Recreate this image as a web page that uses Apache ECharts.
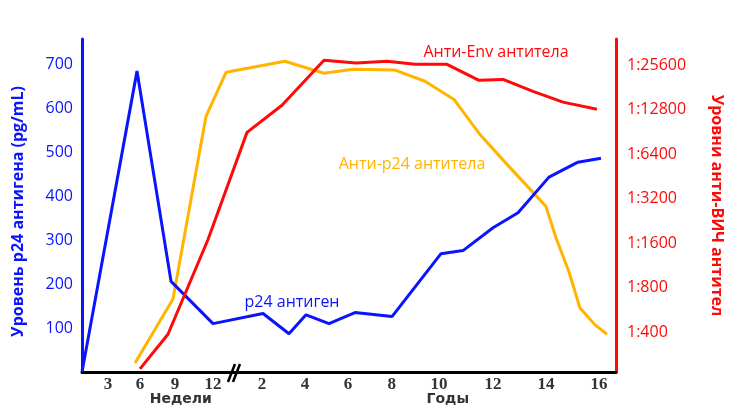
<!DOCTYPE html>
<html>
<head>
<meta charset="utf-8">
<script src="https://cdn.jsdelivr.net/npm/echarts@6/dist/echarts.min.js"></script>
<style>html,body{margin:0;padding:0;background:#fff;}#c{width:738px;height:414px;}</style>
</head>
<body>
<div id="c"></div>
<script>
// x positions are on an abstract time-position scale (0..100) as drawn in the reference
var tickPos    = [4.87, 10.86, 17.42, 24.53, 33.71, 41.76, 49.81, 58.0, 66.85, 76.97, 86.89, 96.82];
var tickLabels = ['3', '6', '9', '12', '2', '4', '6', '8', '10', '12', '14', '16'];
var breakPos = 28.46;

// p24 antigen (pg/mL), left axis
var p24X = [0, 10.30, 16.67, 24.53, 33.90, 38.76, 41.95, 46.25, 51.12, 58.05, 67.23, 71.35, 76.97, 81.65, 87.45, 92.88, 97.19];
var p24Y = [0, 684, 206, 110, 133, 87, 130, 110, 135, 126, 269, 276, 328, 362, 443, 477, 486];

// anti-Env antibody titre, in doublings above 1:400
var envX = [10.86, 16.10, 23.6, 30.90, 37.45, 45.32, 51.31, 57.12, 62.36, 68.35, 74.34, 78.84, 84.46, 90.07, 96.44];
var envY = [-0.83, -0.05, 2.08, 4.49, 5.10, 6.11, 6.05, 6.09, 6.02, 6.02, 5.66, 5.68, 5.41, 5.17, 5.01];

// anti-p24 antibody titre, in doublings above 1:400
var ap24X = [9.93, 17.04, 23.22, 26.97, 38.01, 45.32, 50.75, 58.61, 64.23, 69.66, 74.53, 79.59, 84.46, 86.89, 88.76, 91.20, 93.26, 96.07, 98.31];
var ap24Y = [-0.70, 0.74, 4.85, 5.84, 6.09, 5.82, 5.91, 5.89, 5.64, 5.23, 4.44, 3.77, 3.14, 2.82, 2.12, 1.35, 0.54, 0.16, -0.05];

var leftTicks = [100, 200, 300, 400, 500, 600, 700];
var rightTicks = [0, 1, 2, 3, 4, 5, 6];
var titreBase = 400;

function pairs(xs, ys) { return xs.map(function (x, i) { return [x, ys[i]]; }); }

var BLUE = '#0a14ff', RED = '#ff0a0a', ORANGE = '#ffb400';
var chart = echarts.init(document.getElementById('c'), null, {renderer: 'canvas'});
var option = {
  animation: false,
  backgroundColor: '#fff',
  grid: {left: 82, right: 122, top: 39, bottom: 42, containLabel: false},
  xAxis: {
    type: 'value', min: 0, max: 100,
    axisLine: {show: true, lineStyle: {color: '#000', width: 3}},
    axisTick: {show: false},
    splitLine: {show: false},
    axisLabel: {
      customValues: tickPos,
      margin: 4,
      fontFamily: 'Liberation Serif', fontWeight: 'bold', fontSize: 17, color: '#333',
      formatter: function (v) {
        var best = 0, bd = 1e9;
        tickPos.forEach(function (p, i) { var d = Math.abs(p - v); if (d < bd) { bd = d; best = i; } });
        return tickLabels[best];
      }
    }
  },
  yAxis: [{
    type: 'value', min: 0, max: 757, position: 'left',
    axisLine: {show: true, lineStyle: {color: BLUE, width: 3}},
    axisTick: {show: false}, splitLine: {show: false},
    axisLabel: {customValues: leftTicks, color: BLUE, fontFamily: 'Open Sans', fontSize: 16, margin: 9},
    name: 'Уровень р24 антигена (pg/mL)', nameLocation: 'middle', nameRotate: 90, nameGap: 56,
    nameTextStyle: {color: BLUE, fontFamily: 'Open Sans', fontWeight: 'bold', fontSize: 16, padding: [0, 12, 0, 0]}
  }, {
    type: 'value', min: -0.9, max: 6.59, position: 'right',
    axisLine: {show: true, lineStyle: {color: RED, width: 3}},
    axisTick: {show: false}, splitLine: {show: false},
    axisLabel: {customValues: rightTicks, color: RED, fontFamily: 'Open Sans', fontSize: 16, margin: 11,
      formatter: function (v) { return '1:' + Math.round(titreBase * Math.pow(2, v)); }},
    name: 'Уровни анти-ВИЧ антител', nameLocation: 'middle', nameRotate: -90, nameGap: 93,
    nameTextStyle: {color: RED, fontFamily: 'Open Sans', fontWeight: 'bold', fontSize: 16}
  }],
  series: [{
    type: 'line', yAxisIndex: 0, data: pairs(p24X, p24Y), showSymbol: false,
    lineStyle: {color: BLUE, width: 3}, itemStyle: {color: BLUE}, z: 3
  }, {
    type: 'line', yAxisIndex: 1, data: pairs(ap24X, ap24Y), showSymbol: false,
    lineStyle: {color: ORANGE, width: 3}, itemStyle: {color: ORANGE}, z: 2
  }, {
    type: 'line', yAxisIndex: 1, data: pairs(envX, envY), showSymbol: false,
    lineStyle: {color: RED, width: 3}, itemStyle: {color: RED}, z: 4
  }]
};
chart.setOption(option);

var bx = chart.convertToPixel({xAxisIndex: 0}, breakPos);
var by = chart.convertToPixel({yAxisIndex: 0}, 0);
var wx = chart.convertToPixel({xAxisIndex: 0}, (tickPos[1] + tickPos[3]) / 2 + 0.8);
var yx = chart.convertToPixel({xAxisIndex: 0}, 68.5);
var lblFont = {fontFamily: 'Open Sans', fontSize: 16};
chart.setOption({
  graphic: [
    {type: 'line', shape: {x1: bx - 6, y1: by + 10, x2: bx + 1, y2: by - 8}, style: {stroke: '#000', lineWidth: 2.5}, z: 10},
    {type: 'line', shape: {x1: bx - 1, y1: by + 10, x2: bx + 6, y2: by - 8}, style: {stroke: '#000', lineWidth: 2.5}, z: 10},
    {type: 'text', x: wx, y: by + 27, style: {text: 'Недели', fontFamily: 'DejaVu Sans', fontWeight: 'bold', fontSize: 14, fill: '#333', align: 'center', verticalAlign: 'middle'}},
    {type: 'text', x: yx, y: by + 27, style: {text: 'Годы', fontFamily: 'DejaVu Sans', fontWeight: 'bold', fontSize: 14, fill: '#333', align: 'center', verticalAlign: 'middle'}},
    {type: 'text', x: 292, y: 302, style: {text: 'р24 антиген', fill: BLUE, align: 'center', verticalAlign: 'middle', fontFamily: lblFont.fontFamily, fontSize: lblFont.fontSize}},
    {type: 'text', x: 412, y: 164, style: {text: 'Анти-р24 антитела', fill: ORANGE, align: 'center', verticalAlign: 'middle', fontFamily: lblFont.fontFamily, fontSize: lblFont.fontSize}},
    {type: 'text', x: 496, y: 52, style: {text: 'Анти-Env антитела', fill: RED, align: 'center', verticalAlign: 'middle', fontFamily: lblFont.fontFamily, fontSize: lblFont.fontSize}}
  ]
});
</script>
</body>
</html>
